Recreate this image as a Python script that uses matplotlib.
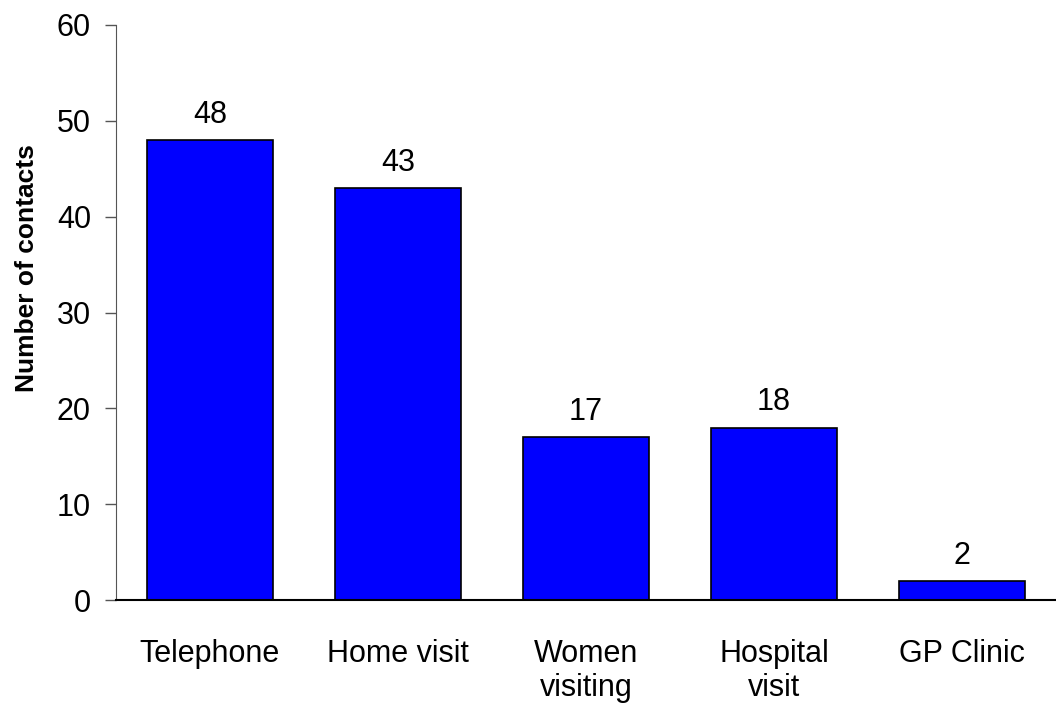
import matplotlib.pyplot as plt
import numpy as np

plt.rcParams['font.family'] = ['Liberation Sans', 'DejaVu Sans']

categories = ["Telephone", "Home visit", "Women\nvisiting", "Hospital\nvisit", "GP Clinic"]
contacts = [48, 43, 17, 18, 2]

fig = plt.figure(figsize=(10.56, 7.04), dpi=100)
ax = fig.add_axes([116 / 1056, 104 / 704, 940 / 1056, 575 / 704])

x = np.arange(len(categories))
ax.bar(x, contacts, width=0.67, color="#0000ff", edgecolor="black", linewidth=1.2)

# valeurs au-dessus des barres
for xi, v in zip(x, contacts):
    ax.text(xi, v + 1.8, str(v), ha="center", va="baseline", fontsize=22)

ax.set_xlim(-0.5, 4.5)
ax.set_ylim(0, 60)
ax.set_yticks(range(0, 61, 10))
ax.tick_params(axis="y", labelsize=22, length=8, width=1, color="#555555", pad=10)
ax.set_xticks(x)
ax.set_xticklabels(categories, fontsize=22, va="top", linespacing=1.2)
ax.tick_params(axis="x", length=0, pad=28)

ax.spines["top"].set_visible(False)
ax.spines["right"].set_visible(False)
ax.spines["left"].set_color("#555555")
ax.spines["bottom"].set_linewidth(1.5)

fig.text(27 / 1056, 1 - 268 / 704, "Number of contacts", rotation=90,
         ha="center", va="center", fontsize=19, fontweight="bold")

fig.savefig("out.png", dpi=100)
